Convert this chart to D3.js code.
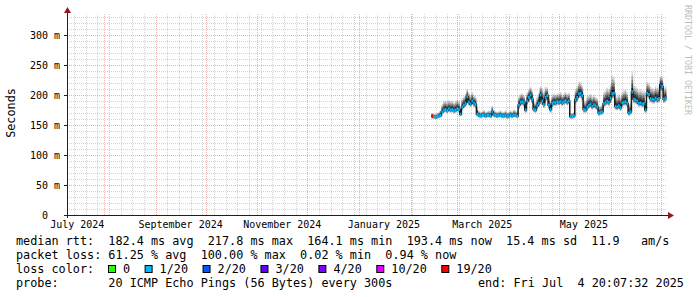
<!DOCTYPE html>
<html>
<head>
<meta charset="utf-8">
<script src="https://cdn.jsdelivr.net/npm/d3@7"></script>
<style>
  html, body { margin: 0; padding: 0; background: #fff; }
  svg { display: block; font-family: "DejaVu Sans Mono", monospace; }
  text { white-space: pre; }
</style>
</head>
<body>
<svg id="chart" width="697" height="297"></svg>
<script>
// ── Data ──
const END_TIME     = new Date(2025, 6, 4, 20, 7, 32);
const SPAN_DAYS    = 360;
const FIRST_SAMPLE = new Date(2025, 1, 13, 12, 0, 0);   // one sample per day after this

// median rtt, ms
const median = [
  165,164,163,164,165,166,172,175,176,174,
  177,175,176,174,175,177,176,168,180,183,
  186,197,188,185,190,186,184,168,166,165,
  166,167,165,166,166,165,172,167,166,165,
  166,166,165,165,166,164,165,166,165,167,
  166,165,183,188,189,187,175,190,196,200,
  193,176,175,182,186,200,190,184,196,199,
  183,176,186,188,187,189,188,190,187,189,
  191,188,190,164,164,165,192,196,202,203,
  199,176,175,180,183,185,181,184,182,180,
  170,171,172,186,188,190,188,195,202,203,
  181,180,182,179,187,188,189,186,170,172,
  205,193,192,190,186,187,185,186,175,203,
  201,194,193,192,195,193,194,217,214,193,
  195
];
// top of smoke, ms
const smokeHi = [
  170,169,168,170,172,175,185,190,191,189,
  192,190,191,188,190,192,190,180,195,198,
  202,210,204,200,205,200,198,180,174,172,
  173,175,172,173,174,172,182,175,173,172,
  173,174,172,172,174,171,172,174,173,176,
  174,173,198,202,203,200,188,205,210,214,
  208,190,188,198,204,215,212,206,214,213,
  200,190,200,202,201,203,202,205,200,202,
  205,202,204,170,170,172,210,215,222,222,
  216,192,190,198,200,202,198,200,197,195,
  180,182,184,205,208,212,210,218,233,230,
  200,198,202,198,205,208,210,204,185,188,
  239,215,214,212,208,210,207,208,190,222,
  220,214,212,210,215,212,214,232,230,212,
  215
];
// bottom of smoke, ms
const smokeLo = [
  160,160,159,160,161,162,167,170,171,169,
  172,170,171,169,170,172,171,164,175,177,
  180,188,182,180,184,180,178,164,162,161,
  162,163,161,162,162,161,167,163,162,161,
  162,162,161,161,162,160,161,162,161,163,
  162,161,176,181,182,180,170,183,188,192,
  185,171,170,176,180,190,183,178,188,190,
  176,170,179,181,181,183,182,184,181,183,
  185,182,184,160,160,161,185,188,194,195,
  190,170,170,174,177,179,175,178,176,174,
  165,166,167,179,181,183,181,187,193,194,
  175,174,176,173,180,181,182,179,165,167,
  196,186,185,183,180,181,179,180,170,195,
  193,187,186,185,188,186,187,207,205,186,
  188
];
// lost pings out of 20
const loss = [
  19,1,1,1,1,1,1,1,1,1,
  1,1,1,1,1,1,1,1,1,1,
  1,1,1,1,1,1,1,1,1,1,
  1,1,1,1,1,1,1,1,1,1,
  1,1,1,1,1,1,1,1,1,1,
  1,1,1,1,1,1,1,1,1,1,
  1,1,1,1,1,1,1,1,1,1,
  1,1,1,1,1,1,1,1,1,1,
  1,1,1,1,1,1,1,1,1,1,
  1,1,1,1,1,1,1,1,1,1,
  1,1,1,1,1,1,1,1,1,1,
  1,1,1,1,1,1,1,1,1,1,
  1,1,1,1,1,1,1,1,1,1,
  1,1,1,1,1,1,1,2,1,1,
  1
];

const yTicks      = [0, 50, 100, 150, 200, 250, 300];
const monthLabels = ["2024-07", "2024-09", "2024-11", "2025-01", "2025-03", "2025-05"];
const lossLevels  = ["0", "1/20", "2/20", "3/20", "4/20", "10/20", "19/20"];
const lossColors  = ["#26ff00", "#00b8ff", "#0059ff", "#5e00ff", "#7e00ff", "#dd00ff", "#ff0000"];
const lossBreaks  = [0.5, 1.5, 2.5, 3.5, 9.5, 18.5];

const statLines = [
  "median rtt:  182.4 ms avg  217.8 ms max  164.1 ms min  193.4 ms now  15.4 ms sd  11.9   am/s",
  "packet loss: 61.25 % avg  100.00 % max  0.02 % min  0.94 % now"
];
const probeText = "probe:       20 ICMP Echo Pings (56 Bytes) every 300s";
const endText   = "end: Fri Jul  4 20:07:32 2025";

// ── Layout ──
const X0 = 67, X1 = 667, Y0 = 215, Y1 = 15;
const GRID  = "#d4d4d4";
const MGRID = "#e6b3b3";
const ARROW = "#8e1a1a";
const AXIS  = "#202020";

const svg = d3.select("#chart");
const startTime = d3.timeDay.offset(END_TIME, -SPAN_DAYS);

const x = d3.scaleTime().domain([startTime, END_TIME]).range([X0, X1]);
const y = d3.scaleLinear().domain([0, 1000 / 3]).range([Y0, Y1]);
const lossColor = d3.scaleThreshold().domain(lossBreaks).range(lossColors);

// ── Grid ──
const grid = svg.append("g").attr("shape-rendering", "crispEdges");
d3.range(10, 340, 10).filter(v => v % 50 !== 0).forEach(v => {
  grid.append("line")
    .attr("x1", X0).attr("x2", X1)
    .attr("y1", y(v) + 0.5).attr("y2", y(v) + 0.5)
    .attr("stroke", GRID).attr("stroke-dasharray", "1,1");
});
d3.timeSunday.range(startTime, END_TIME).forEach(t => {
  const px = Math.round(x(t)) + 0.5;
  grid.append("line")
    .attr("x1", px).attr("x2", px)
    .attr("y1", Y0).attr("y2", Y1 - 1)
    .attr("stroke", GRID).attr("stroke-dasharray", "1,1");
});
yTicks.filter(v => v > 0).forEach(v => {
  grid.append("line")
    .attr("x1", X0).attr("x2", X1)
    .attr("y1", y(v) + 0.5).attr("y2", y(v) + 0.5)
    .attr("stroke", MGRID).attr("stroke-dasharray", "1,1");
});
d3.timeMonth.range(startTime, END_TIME).forEach(t => {
  const px = Math.round(x(t)) + 0.5;
  grid.append("line")
    .attr("x1", px).attr("x2", px)
    .attr("y1", Y0).attr("y2", Y1 - 1)
    .attr("stroke", MGRID).attr("stroke-dasharray", "1,1");
});

// ── Smoke ──
const pts = median.map((m, i) => ({
  t: d3.timeDay.offset(FIRST_SAMPLE, i),
  t2: d3.timeDay.offset(FIRST_SAMPLE, i + 1),
  med: m, hi: smokeHi[i], lo: smokeLo[i], loss: loss[i]
}));
const areaPts = pts.concat([{ ...pts[pts.length - 1], t: pts[pts.length - 1].t2 }]);

const smokeLayers = [
  { f: 1.0, o: 0.14 },
  { f: 0.8, o: 0.2 },
  { f: 0.6, o: 0.3 },
  { f: 0.4, o: 0.45 },
  { f: 0.2, o: 0.7 }
];
smokeLayers.forEach(layer => {
  const area = d3.area()
    .x(d => x(d.t))
    .y0(d => y(d.med - (d.med - d.lo) * layer.f))
    .y1(d => y(d.med + (d.hi - d.med) * layer.f))
    .curve(d3.curveStepAfter);
  svg.append("path")
    .datum(areaPts)
    .attr("fill", "#000")
    .attr("fill-opacity", layer.o)
    .attr("d", area);
});

// dark connectors between median steps
svg.append("path")
  .datum(areaPts)
  .attr("fill", "none")
  .attr("stroke", "#1a1a1a")
  .attr("stroke-width", 1.5)
  .attr("d", d3.line().x(d => x(d.t)).y(d => y(d.med)).curve(d3.curveStepAfter));

// ── Median (coloured by loss) ──
svg.append("g").selectAll("rect")
  .data(pts)
  .join("rect")
  .attr("x", d => x(d.t))
  .attr("width", d => x(d.t2) - x(d.t))
  .attr("y", d => y(d.med) - 1.5)
  .attr("height", 3)
  .attr("fill", d => lossColor(d.loss));

// ── Axes ──
svg.append("line")
  .attr("x1", X0 - 3).attr("x2", X1 + 1)
  .attr("y1", Y0 + 0.5).attr("y2", Y0 + 0.5)
  .attr("stroke", AXIS);
svg.append("line")
  .attr("x1", X0 + 0.5).attr("x2", X0 + 0.5)
  .attr("y1", Y0 + 3).attr("y2", Y1 - 3)
  .attr("stroke", AXIS);
yTicks.forEach(v => {
  svg.append("line")
    .attr("x1", X0 - 3).attr("x2", X0)
    .attr("y1", y(v) + 0.5).attr("y2", y(v) + 0.5)
    .attr("stroke", AXIS);
});
// arrows
svg.append("path")
  .attr("d", `M${X0 + 0.5},${Y1 - 8} L${X0 - 3},${Y1 - 2} L${X0 + 4},${Y1 - 2} Z`)
  .attr("fill", ARROW);
svg.append("path")
  .attr("d", `M${X1 + 7},${Y0 + 0.5} L${X1 + 1},${Y0 - 3} L${X1 + 1},${Y0 + 4} Z`)
  .attr("fill", ARROW);

// Y tick labels
yTicks.forEach(v => {
  svg.append("text")
    .attr("x", 30).attr("y", y(v) + 4)
    .style("font-size", "10px")
    .text(v === 0 ? "  0" : String(v).padStart(3, " ") + " m");
});

// X labels (centred half a month after the month start)
const fmtMonth = d3.timeFormat("%B %Y");
monthLabels.forEach(m => {
  const t0 = d3.timeParse("%Y-%m")(m);
  svg.append("text")
    .attr("x", x(d3.timeDay.offset(t0, 15)))
    .attr("y", 228)
    .style("font-size", "10px")
    .style("text-anchor", "middle")
    .text(fmtMonth(t0));
});

// Y title
svg.append("text")
  .attr("transform", "translate(15,113) rotate(-90)")
  .style("font-size", "11.8px")
  .style("text-anchor", "middle")
  .text("Seconds");

// watermark
svg.append("text")
  .attr("transform", "translate(685,5) rotate(90)")
  .style("font-size", "8.3px")
  .style("fill", "#bdbdbd")
  .text("RRDTOOL / TOBI OETIKER");

// ── Legend ──
const LX = 16, LFS = "11.8px";
statLines.forEach((s, i) => {
  svg.append("text")
    .attr("x", LX).attr("y", 244.5 + i * 14)
    .style("font-size", LFS)
    .text(s);
});
svg.append("text")
  .attr("x", LX).attr("y", 272.5)
  .style("font-size", LFS)
  .text("loss color:");

let bx = 108.5;
lossLevels.forEach((lbl, i) => {
  svg.append("rect")
    .attr("x", bx).attr("y", 265.5)
    .attr("width", 7).attr("height", 7)
    .attr("fill", lossColors[i])
    .attr("stroke", "#000");
  const t = svg.append("text")
    .attr("x", bx + 14.5).attr("y", 272.5)
    .style("font-size", LFS)
    .text(lbl);
  bx = bx + 14.5 + t.node().getComputedTextLength() + 15;
});

svg.append("text")
  .attr("x", LX).attr("y", 286.5)
  .style("font-size", LFS)
  .text(probeText);
svg.append("text")
  .attr("x", 478).attr("y", 286.5)
  .style("font-size", LFS)
  .text(endText);
</script>
</body>
</html>
